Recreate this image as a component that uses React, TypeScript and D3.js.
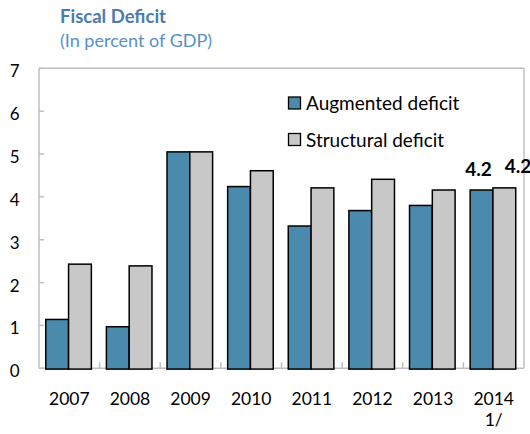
import React from "react";
import * as d3 from "d3";

const years = ["2007", "2008", "2009", "2010", "2011", "2012", "2013", "2014"];
const augmented = [1.14, 0.97, 5.05, 4.24, 3.32, 3.68, 3.8, 4.16];
const structural = [2.43, 2.39, 5.05, 4.61, 4.21, 4.41, 4.16, 4.21];
const seriesNames = ["Augmented deficit", "Structural deficit"];
const seriesColors = ["#4a8aac", "#c8c8c8"];
const yTicks = [0, 1, 2, 3, 4, 5, 6, 7];
const title = "Fiscal Deficit";
const subtitle = "(In percent of GDP)";
const lastLabels = ["4.2", "4.2"];

const W = 530;
const H = 434;
const FONT = "Lato, 'Open Sans', sans-serif";

export default function App() {
  const left = 39;
  const right = 524;
  const top = 68.3;
  const bottom = 368.3;

  const x0 = d3.scaleBand<string>().domain(years).range([left, right]).padding(0);
  const x1 = d3
    .scaleBand<string>()
    .domain(seriesNames)
    .range([0, x0.bandwidth()])
    .paddingInner(0)
    .paddingOuter(0.33)
    .align(0.45);
  const y = d3.scaleLinear().domain([0, 7]).range([bottom, top]);

  const series = [augmented, structural];
  const axisColor = "#bfbfbf";

  return (
    <svg
      width={W}
      height={H}
      style={{ position: "absolute", left: 0, top: 0, background: "#fff" }}
      fontFamily={FONT}
    >
      {/* title */}
      <text x={60} y={23} fontSize={18.5} fontWeight={700} fill="#4a7cae">
        {title}
      </text>
      <text x={60} y={47} fontSize={18} fill="#5b8fc6">
        {subtitle}
      </text>

      {/* frame */}
      <line x1={left} x2={right} y1={top} y2={top} stroke={axisColor} strokeWidth={1.5} />
      <line x1={right} x2={right} y1={top} y2={bottom} stroke={axisColor} strokeWidth={1.5} />
      <line x1={left} x2={left} y1={top} y2={bottom} stroke={axisColor} strokeWidth={1.5} />
      <line x1={left} x2={right} y1={bottom} y2={bottom} stroke={axisColor} strokeWidth={1.5} />

      {/* y ticks */}
      {yTicks.map((t) => (
        <g key={t}>
          <line x1={left} x2={left + 5} y1={y(t)} y2={y(t)} stroke={axisColor} strokeWidth={1.5} />
          <text x={19.5} y={y(t) + 9} fontSize={17} textAnchor="end" fill="#000">
            {t}
          </text>
        </g>
      ))}

      {/* x category ticks */}
      {years.slice(1).map((yr) => (
        <line
          key={yr}
          x1={x0(yr)!}
          x2={x0(yr)!}
          y1={bottom}
          y2={bottom - 6}
          stroke={axisColor}
          strokeWidth={1.5}
        />
      ))}

      {/* bars */}
      {years.map((yr, i) => (
        <g key={yr}>
          {series.map((vals, s) => (
            <rect
              key={s}
              x={x0(yr)! + x1(seriesNames[s])!}
              y={y(vals[i])}
              width={x1.bandwidth()}
              height={y(0) - y(vals[i]) + 0.8}
              fill={seriesColors[s]}
              stroke="#000"
              strokeWidth={1.5}
            />
          ))}
        </g>
      ))}

      {/* data labels on last year */}
      {(() => {
        const yr = years[years.length - 1];
        const i = years.length - 1;
        const c0 = x0(yr)! + x1(seriesNames[0])! + x1.bandwidth() / 2;
        const c1 = x0(yr)! + x1(seriesNames[1])! + x1.bandwidth() / 2;
        return (
          <g fontSize={19} fontWeight={700} fill="#000">
            <text x={c0 - 3} y={y(augmented[i]) - 14} textAnchor="middle">
              {lastLabels[0]}
            </text>
            <text x={c1 + 0.5} y={y(structural[i]) - 14.5} textAnchor="start">
              {lastLabels[1]}
            </text>
          </g>
        );
      })()}

      {/* x labels */}
      {years.map((yr, i) => (
        <text
          key={yr}
          x={x0(yr)! + x0.bandwidth() / 2}
          y={404.5}
          fontSize={17.5}
          textAnchor="middle"
          fill="#000"
        >
          {yr}
          {i === years.length - 1 ? (
            <tspan x={x0(yr)! + x0.bandwidth() / 2} dy={21.5}>
              1/
            </tspan>
          ) : null}
        </text>
      ))}

      {/* legend */}
      {seriesNames.map((name, s) => (
        <g key={name} transform={`translate(288.5, ${97 + s * 36.5})`}>
          <rect width={12} height={12} fill={seriesColors[s]} stroke="#000" strokeWidth={1.3} />
          <text x={17.5} y={13} fontSize={19} fill="#000">
            {name}
          </text>
        </g>
      ))}
    </svg>
  );
}
